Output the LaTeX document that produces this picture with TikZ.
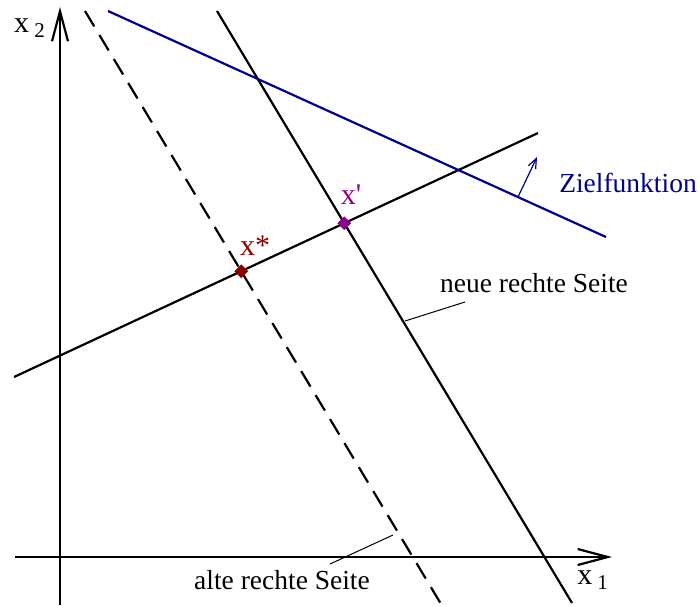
\documentclass[tikz,border=0pt]{standalone}
\usepackage{fontspec}
\setmainfont{Liberation Serif}
\usetikzlibrary{arrows.meta,shapes.geometric}
\definecolor{zielblau}{RGB}{0,0,139}
\definecolor{altrot}{RGB}{139,0,0}
\definecolor{neulila}{RGB}{139,0,139}
\tikzset{
  achse/.style={line width=1.1pt,-{Straight Barb[length=15pt,width=8pt]}},
  gerade/.style={line width=1.1pt},
  hinweis/.style={line width=0.5pt},
  ecke/.style={diamond,fill,inner sep=0pt,minimum size=7pt},
  beschr/.style={font=\fontsize{13.75}{16}\selectfont},
  punkt/.style={font=\fontsize{15}{17}\selectfont},
}
\begin{document}
\begin{tikzpicture}[x=0.5pt,y=-0.5pt]
\useasboundingbox (0,0) rectangle (700,606);
% Achsen
\coordinate (o1) at (15,557); \coordinate (e1) at (612,557);
\coordinate (o2) at (60,605); \coordinate (e2) at (60,7);
\draw[achse] (o1) -- (e1);
\draw[achse] (o2) -- (e2);
\node[punkt] (lx1) at (593,580) {x\,\textsubscript{1}};
\node[punkt] (lx2) at (30,28) {x\,\textsubscript{2}};
% Geraden
\coordinate (a1) at (85,11);  \coordinate (a2) at (441,604);
\coordinate (n1) at (217,11); \coordinate (n2) at (572,603);
\coordinate (r1) at (14,377); \coordinate (r2) at (538,133);
\coordinate (z1) at (108,11); \coordinate (z2) at (606,237);
\draw[gerade, dash pattern=on 9pt off 5pt] (a1) -- (a2);
\draw[gerade] (n1) -- (n2);
\draw[gerade] (r1) -- (r2);
\draw[gerade, zielblau] (z1) -- (z2);
% Ecken
\node[ecke, altrot] (xs) at (intersection of a1--a2 and r1--r2) {};
\node[ecke, neulila] (xn) at (intersection of n1--n2 and r1--r2) {};
\node[punkt, altrot] (lxs) at (255,246) {x*};
\node[punkt, neulila] (lxn) at (351,195) {x\textquotesingle};
% Zielfunktion
\coordinate (zf) at (518,197); \coordinate (zs) at (537,157);
\draw[zielblau, line width=0.6pt, -{Straight Barb[length=5pt,width=4pt]}] (zf) -- (zs);
\node[beschr, zielblau] (lz) at (628,183) {Zielfunktion};
% Beschriftungen
\node[beschr] (ln) at (534,283) {neue rechte Seite};
\coordinate (hn1) at (465,302); \coordinate (hn2) at (405,321);
\draw[hinweis] (hn1) -- (hn2);
\node[beschr] (la) at (282,580) {alte rechte Seite};
\coordinate (ha1) at (330,564); \coordinate (ha2) at (393,535);
\draw[hinweis] (ha1) -- (ha2);
\end{tikzpicture}
\end{document}
